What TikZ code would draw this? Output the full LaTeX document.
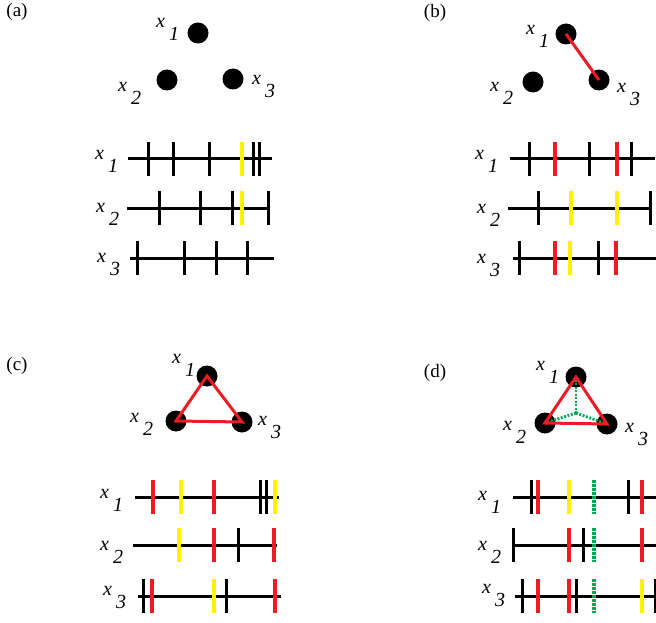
\documentclass[tikz,border=0pt]{standalone}
\usepackage{fontspec}
\setmainfont{Liberation Serif}
\usepackage{tikz}
\usetikzlibrary{calc}
\usepackage{xcolor}

\definecolor{spkred}{RGB}{237,28,36}
\definecolor{spkyellow}{RGB}{255,242,0}
\definecolor{spkgreen}{RGB}{0,166,81}

% spike marks on one train: style, height of the train, x positions
\newcommand{\spikes}[3]{\foreach \s in {#3} \draw[#1] (\s,#2-17) -- (\s,#2+17);}
% variable label x with its index set low
\newcommand{\varlab}[3]{\node[vlab] (#1) at (#2) {x\hspace{4pt}\raisebox{-13pt}{#3}};}

\begin{document}
\begin{tikzpicture}[
  x=1pt, y=-1pt,
  neuron/.style={circle, fill=black, minimum size=21pt, inner sep=0pt},
  vlab/.style={anchor=base west, inner sep=0pt, xshift=-1pt, yshift=-1pt, font=\fontsize{20}{24}\selectfont\itshape},
  panel/.style={font=\fontsize{19}{22}\selectfont},
  axis/.style={line width=3pt},
  spk/.style={line width=3pt, black},
  fire/.style={line width=4.5pt, spkred},
  echo/.style={line width=4.5pt, spkyellow},
  sync/.style={line width=3.5pt, spkgreen, dash pattern=on 2.5pt off 1.5pt},
  link/.style={line width=3pt, spkred},
  hub/.style={line width=2.8pt, spkgreen, dash pattern=on 2pt off 1.5pt}
]
  \useasboundingbox (0,0) rectangle (656,623);

  % Panel labels
  \node[panel] (pa) at (17,12) {(a)};
  \node[panel] (pb) at (435,13) {(b)};
  \node[panel] (pc) at (17,366) {(c)};
  \node[panel] (pd) at (435,373) {(d)};

  % (a) three units, no links
  \node[neuron] (a1) at (198,33) {};
  \node[neuron] (a2) at (167,80) {};
  \node[neuron] (a3) at (233,79) {};
  \varlab{la1}{157,27}{1}
  \varlab{la2}{119,91}{2}
  \varlab{la3}{253,84}{3}

  % (a) spike trains
  \varlab{ta1}{96,159}{1}
  \varlab{ta2}{97,211}{2}
  \varlab{ta3}{98,261}{3}
  \draw[axis] (128,159) -- (272,159);
  \draw[axis] (127,208) -- (270,208);
  \draw[axis] (130,258) -- (274,258);
  \spikes{spk}{159}{148,173,209,253,259}
  \spikes{echo}{159}{242}
  \spikes{spk}{208}{159,200,232,268}
  \spikes{echo}{208}{242}
  \spikes{spk}{258}{137,184,216,247}

  % (b) one link
  \node[neuron] (b1) at (566,34) {};
  \node[neuron] (b2) at (533,82) {};
  \node[neuron] (b3) at (599,80) {};
  \draw[link] (b1.center) -- (b3.center);
  \varlab{lb1}{527,34}{1}
  \varlab{lb2}{491,91}{2}
  \varlab{lb3}{618,92}{3}

  % (b) spike trains
  \varlab{tb1}{476,159}{1}
  \varlab{tb2}{478,212}{2}
  \varlab{tb3}{478,262}{3}
  \draw[axis] (510,159) -- (655,159);
  \draw[axis] (508,208) -- (652,208);
  \draw[axis] (513,258) -- (656,258);
  \spikes{spk}{159}{529,589,631}
  \spikes{fire}{159}{555,617}
  \spikes{spk}{208}{538,650}
  \spikes{echo}{208}{571,617}
  \spikes{spk}{258}{519,598}
  \spikes{fire}{258}{555,616}
  \spikes{echo}{258}{570}

  % (c) pairwise links
  \node[neuron] (c1) at (207,376) {};
  \node[neuron] (c2) at (176,421) {};
  \node[neuron] (c3) at (242,422) {};
  \draw[link] (c1.center) -- (c2.center) -- (c3.center) -- cycle;
  \varlab{lc1}{173,362}{1}
  \varlab{lc2}{131,421}{2}
  \varlab{lc3}{259,424}{3}

  % (c) spike trains
  \varlab{tc1}{101,497}{1}
  \varlab{tc2}{101,549}{2}
  \varlab{tc3}{104,594}{3}
  \draw[axis] (135,497) -- (279,497);
  \draw[axis] (133,545) -- (277,545);
  \draw[axis] (138,596) -- (281,596);
  \spikes{fire}{497}{153,214}
  \spikes{echo}{497}{181,275}
  \spikes{spk}{497}{260,266}
  \spikes{echo}{545}{179}
  \spikes{fire}{545}{214,274}
  \spikes{spk}{545}{238}
  \spikes{spk}{596}{143,226}
  \spikes{fire}{596}{152,275}
  \spikes{echo}{596}{214}

  % (d) pairwise links plus a joint one
  \node[neuron] (d1) at (576,377) {};
  \node[neuron] (d2) at (545,423) {};
  \node[neuron] (d3) at (607,424) {};
  \coordinate (dc) at (576,413);
  \draw[hub] (dc) -- (d1.center);
  \draw[hub] (dc) -- (d2.center);
  \draw[hub] (dc) -- (d3.center);
  \draw[link] (d1.center) -- (d2.center) -- (d3.center) -- cycle;
  \varlab{ld1}{537,369}{1}
  \varlab{ld2}{504,429}{2}
  \varlab{ld3}{626,431}{3}

  % (d) spike trains
  \varlab{td1}{479,499}{1}
  \varlab{td2}{479,549}{2}
  \varlab{td3}{483,592}{3}
  \draw[axis] (513,497) -- (656,497);
  \draw[axis] (512,545) -- (656,545);
  \draw[axis] (515,596) -- (656,596);
  \spikes{spk}{497}{531,628}
  \spikes{fire}{497}{538,642}
  \spikes{echo}{497}{569}
  \spikes{sync}{497}{594}
  \spikes{spk}{545}{513,583}
  \spikes{fire}{545}{569,642}
  \spikes{sync}{545}{594}
  \spikes{spk}{596}{522,576,655}
  \spikes{fire}{596}{538,569}
  \spikes{echo}{596}{642}
  \spikes{sync}{596}{594}
\end{tikzpicture}
\end{document}
